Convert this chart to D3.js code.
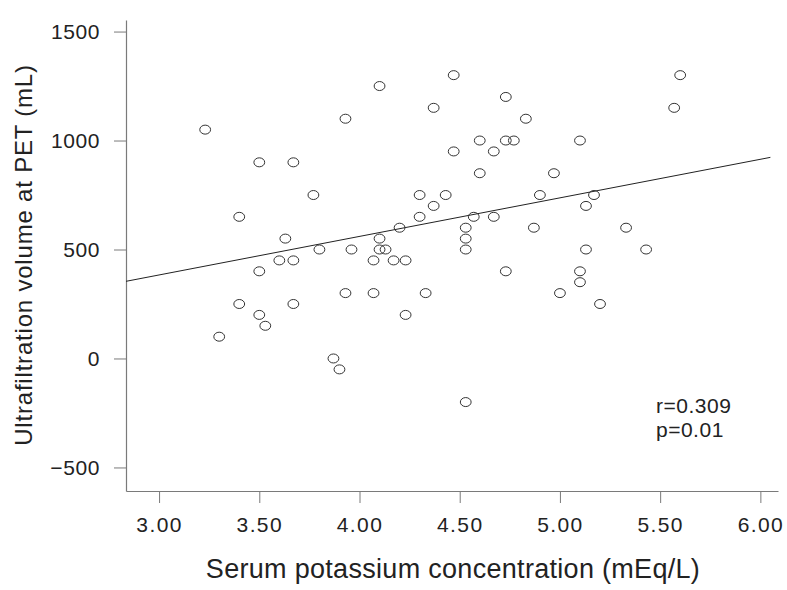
<!DOCTYPE html>
<html>
<head>
<meta charset="utf-8">
<script src="https://cdn.jsdelivr.net/npm/d3@7"></script>
<style>
  html, body { margin: 0; padding: 0; background: #fff; }
  svg { display: block; }
  text { font-family: "Liberation Sans", Arial, sans-serif; fill: #222; }
</style>
</head>
<body>
<svg id="chart" width="787" height="590"></svg>
<script>
// Serum potassium (mEq/L)
const potassium = [3.23,3.30,3.40,3.40,3.50,3.50,3.50,3.53,3.60,3.63,3.67,3.67,3.67,3.77,3.80,3.87,3.90,3.93,3.93,3.96,
  4.07,4.07,4.10,4.10,4.10,4.13,4.17,4.20,4.23,4.23,4.30,4.30,4.33,4.37,4.37,4.43,4.47,4.47,4.53,4.53,
  4.53,4.53,4.57,4.60,4.60,4.67,4.67,4.73,4.73,4.73,4.77,4.83,4.87,4.90,4.97,5.00,5.10,5.10,5.10,5.13,
  5.13,5.17,5.20,5.33,5.43,5.57,5.60];
// Ultrafiltration volume at PET (mL)
const ufVolume = [1050,100,650,250,900,400,200,150,450,550,900,450,250,750,500,0,-50,1100,300,500,
  450,300,1250,550,500,500,450,600,450,200,750,650,300,1150,700,750,1300,950,600,550,
  500,-200,650,1000,850,950,650,1200,1000,400,1000,1100,600,750,850,300,1000,400,350,700,
  500,750,250,600,500,1150,1300];
const xTicks = [3.00,3.50,4.00,4.50,5.00,5.50,6.00];
const yTicks = [-500,0,500,1000,1500];
const fitIntercept = -147.5;
const fitSlope = 176.9;
const fitRange = [2.835, 6.05];
const statLabels = ["r=0.309", "p=0.01"];

const svg = d3.select("#chart");
const x = d3.scaleLinear().domain([2.835, 6.088]).range([126, 778]);
const y = d3.scaleLinear().domain([-608, 1553]).range([491, 20]);

// axes
const axisColor = "#7a7a7a";
const xAxis = svg.append("g").attr("transform", "translate(0,491)")
  .call(d3.axisBottom(x).tickValues(xTicks).tickFormat(d3.format(".2f")).tickSizeOuter(0).tickSizeInner(12).tickPadding(10));
const yAxis = svg.append("g").attr("transform", "translate(126,0)")
  .call(d3.axisLeft(y).tickValues(yTicks).tickFormat(d => d < 0 ? "\u2212" + Math.abs(d) : d).tickSizeOuter(0).tickSizeInner(12).tickPadding(14));
[xAxis, yAxis].forEach(g => {
  g.select(".domain").attr("stroke", axisColor).attr("stroke-width", 1.2);
  g.selectAll(".tick line").attr("stroke", axisColor).attr("stroke-width", 1);
  g.selectAll(".tick text").attr("fill", "#222").style("font-size", "21px")
    .style("letter-spacing", "0.6px")
    .style("font-family", "'Liberation Sans', Arial, sans-serif");
});
xAxis.selectAll(".tick text").attr("dy", "0.92em").style("letter-spacing", "1.4px");

// regression line
svg.append("line")
  .attr("x1", x(fitRange[0])).attr("y1", y(fitIntercept + fitSlope * fitRange[0]))
  .attr("x2", x(fitRange[1])).attr("y2", y(fitIntercept + fitSlope * fitRange[1]))
  .attr("stroke", "#222").attr("stroke-width", 1);

// points
svg.append("g").selectAll("ellipse").data(potassium.map((k, i) => [k, ufVolume[i]]))
  .join("ellipse")
  .attr("cx", d => x(d[0])).attr("cy", d => y(d[1]))
  .attr("rx", 5.4).attr("ry", 4.5)
  .attr("fill", "none").attr("stroke", "#333").attr("stroke-width", 1);

// stats
svg.append("g").selectAll("text").data(statLabels).join("text")
  .attr("x", 656).attr("y", (d, i) => 413 + i * 24)
  .style("font-size", "21px").style("letter-spacing", "0.5px").text(d => d);

// axis titles
svg.append("text").attr("x", 453).attr("y", 578).attr("text-anchor", "middle")
  .style("font-size", "27px").style("letter-spacing", "0.3px").text("Serum potassium concentration (mEq/L)");
svg.append("text").attr("transform", "translate(32,255) rotate(-90)").attr("text-anchor", "middle")
  .style("font-size", "24px").style("letter-spacing", "0.8px").text("Ultrafiltration volume at PET (mL)");
</script>
</body>
</html>
